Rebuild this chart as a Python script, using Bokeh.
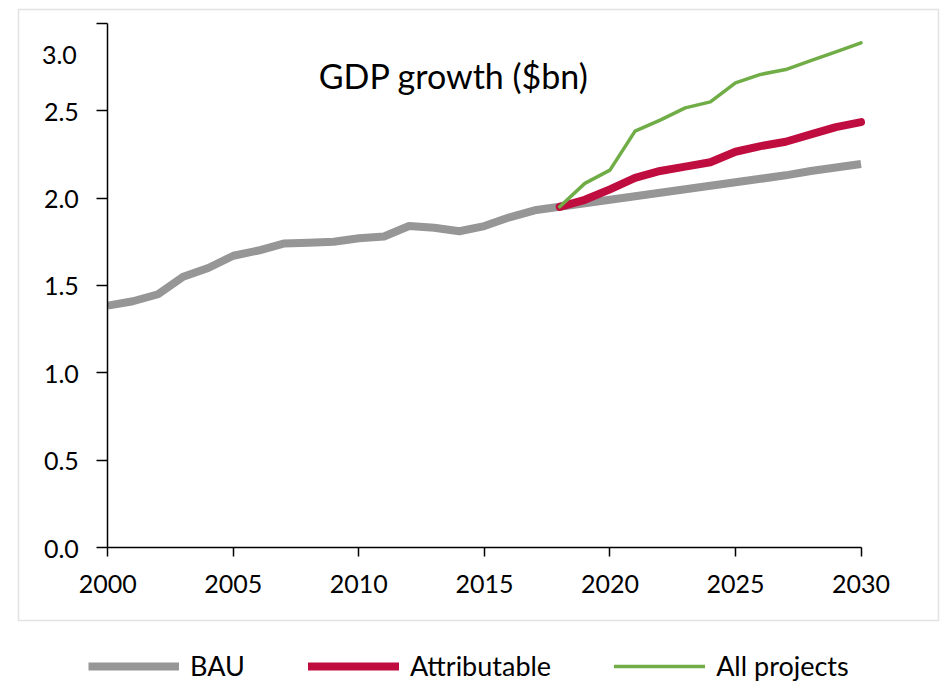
from bokeh.plotting import figure
from bokeh.models import (Range1d, FixedTicker, NumeralTickFormatter, Label,
                          Legend, LegendItem, BoxAnnotation)
from bokeh.embed import file_html
from bokeh.resources import INLINE

# ---- data ----
years_bau = list(range(2000, 2031))
bau = [1.385, 1.41, 1.45, 1.55, 1.60, 1.67, 1.70, 1.74, 1.745, 1.75, 1.77,
       1.78, 1.84, 1.83, 1.81, 1.84, 1.89, 1.93, 1.95, 1.97, 1.99, 2.01,
       2.03, 2.05, 2.07, 2.09, 2.11, 2.13, 2.155, 2.175, 2.195]
years_proj = list(range(2018, 2031))
attributable = [1.95, 1.99, 2.05, 2.115, 2.155, 2.18, 2.205, 2.265, 2.297,
                2.322, 2.364, 2.406, 2.434]
all_projects = [1.95, 2.084, 2.16, 2.383, 2.446, 2.516, 2.55, 2.659, 2.707,
                2.735, 2.786, 2.836, 2.888]
x_ticks = [2000, 2005, 2010, 2015, 2020, 2025, 2030]
y_ticks = [0.0, 0.5, 1.0, 1.5, 2.0, 2.5, 3.0]
title_text = "GDP growth ($bn)"
series_names = ["BAU", "Attributable", "All projects"]

FONT = "Lato"
W, H = 941, 686

# The plotting frame covers the whole canvas; the axes are pinned at
# x=2000 / y=0 so that the chart-area border and legend can sit around them.
p = figure(width=W, height=H, output_backend="svg", toolbar_location=None,
           x_range=Range1d(1995.726, 2033.206),
           y_range=Range1d(-0.7932, 3.1298),
           min_border_left=0, min_border_right=0, min_border_top=0,
           min_border_bottom=0)
p.outline_line_color = None
p.xgrid.visible = False
p.ygrid.visible = False
p.background_fill_color = "white"
p.border_fill_color = "white"

r_bau = p.line(years_bau, bau, line_color="#969696", line_width=8,
               line_join="round")
r_att = p.line(years_proj, attributable, line_color="#C00D3F", line_width=8,
               line_join="round", line_cap="round")
r_all = p.line(years_proj, all_projects, line_color="#70AD47", line_width=3.5,
               line_join="round", line_cap="round")

for ax in (p.xaxis[0], p.yaxis[0]):
    ax.axis_line_color = "black"
    ax.axis_line_width = 1.5
    ax.major_tick_line_color = "black"
    ax.major_tick_line_width = 1.5
    ax.minor_tick_line_color = None
    ax.major_tick_in = 0
    ax.major_label_text_font = FONT
    ax.major_label_text_font_size = "25px"
    ax.major_label_text_color = "black"

p.xaxis[0].fixed_location = 0
p.xaxis[0].bounds = (2000, 2030)
p.xaxis[0].ticker = FixedTicker(ticks=x_ticks)
p.xaxis[0].formatter = NumeralTickFormatter(format="0")
p.xaxis[0].major_tick_out = 9
p.xaxis[0].major_label_standoff = 18

p.yaxis[0].fixed_location = 2000
p.yaxis[0].bounds = (0, 3)
p.yaxis[0].ticker = FixedTicker(ticks=y_ticks)
p.yaxis[0].formatter = NumeralTickFormatter(format="0.0")
p.yaxis[0].major_tick_out = 11
p.yaxis[0].major_label_standoff = 18
p.yaxis[0].major_label_overrides = {3: " "}

# the "3.0" label sits a little below its tick in the original
p.add_layout(Label(x=2000, y=2.82, x_offset=-31, text="3.0",
                   text_align="right", text_baseline="middle",
                   text_font=FONT, text_font_size="25px",
                   text_color="black"))

p.add_layout(Label(x=2008.4, y=2.70, text=title_text, text_align="left",
                   text_baseline="alphabetic", text_font=FONT,
                   text_font_size="34px", text_color="black"))

# outer chart-area border (screen units, measured up from the bottom)
p.add_layout(BoxAnnotation(left=18, right=938, top=H - 9, bottom=H - 620,
                           left_units="screen", right_units="screen",
                           top_units="screen", bottom_units="screen",
                           fill_color=None, fill_alpha=0,
                           line_color="#A0A0A0", line_width=1.5,
                           level="underlay"))

legend = Legend(items=[LegendItem(label=series_names[0], renderers=[r_bau]),
                       LegendItem(label=series_names[1], renderers=[r_att]),
                       LegendItem(label=series_names[2], renderers=[r_all])],
                orientation="horizontal", location=(88, 4),
                label_text_font=FONT, label_text_font_size="27px",
                label_text_color="black",
                glyph_width=91, glyph_height=20, label_height=20,
                label_standoff=11, spacing=63, padding=0, margin=0,
                border_line_color=None, background_fill_alpha=0)
p.add_layout(legend)

open("out.html", "w").write(file_html(p, INLINE))
